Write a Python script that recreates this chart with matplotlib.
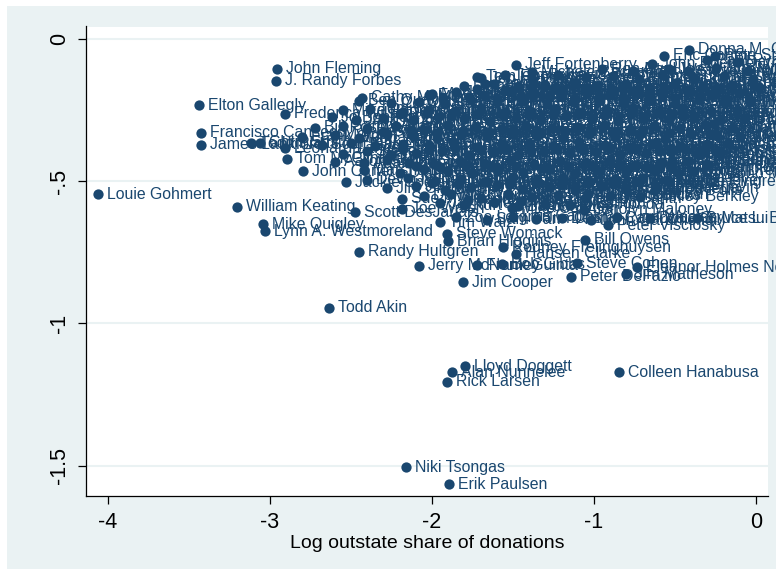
import matplotlib
matplotlib.use("Agg")
import matplotlib.pyplot as plt
from matplotlib.patches import Rectangle

plt.rcParams['font.family'] = ['Liberation Sans', 'DejaVu Sans']

# ---- labelled points that can be read individually ----
named_names = [
    "Louie Gohmert", "John Fleming", "J. Randy Forbes", "Elton Gallegly", "Frederica Wilson",
    "Francisco Canseco", "James Lankford", "Tom McClintock", "John Carter", "Jackie Speier",
    "William Keating", "Scott DesJarlais", "Mike Quigley", "Lynn A. Westmoreland", "Randy Hultgren",
    "Jerry McNerney", "Jim Cooper", "Todd Akin", "Lloyd Doggett", "Alan Nunnelee",
    "Rick Larsen", "Colleen Hanabusa", "Niki Tsongas", "Erik Paulsen", "Peter DeFazio",
    "Jim Matheson", "Eleanor Holmes Norton", "Steve Cohen", "Frank Guinta", "Bob Gibbs",
    "Hansen Clarke", "Rodney Frelinghuysen", "Bill Owens", "Steve Womack", "Brian Higgins",
    "Tim Walz", "Joe Walsh", "Sue Myrick", "Doris O. Matsui", "Bruce L. Braley",
    "Peter Visclosky", "Carolyn Maloney", "Mike Coffman", "Shelley Berkley", "Tammy Baldwin",
    "Jared Polis", "Chellie Pingree", "John Dingell", "Earl Blumenauer", "Keith Ellison",
    "Jeff Miller", "Dan Burton", "Gregory W. Meeks", "Donna M. Christensen", "Eric Cantor",
    "Jeff Fortenberry", "Sean P. Duffy", "Tom Rooney", "Kevin McCarthy", "Cathy McMorris Rodgers",
    "Ed Whitfield", "Pete Stark", "Jose E. Serrano", "Steve Israel",
]
named_x = [
    -4.062, -2.957, -2.963, -3.438, -2.907,
    -3.426, -3.426, -2.895, -2.796, -2.531,
    -3.204, -2.475, -3.043, -3.031, -2.451,
    -2.080, -1.809, -2.636, -1.796, -1.877,
    -1.907, -0.846, -2.160, -1.895, -1.142,
    -0.802, -0.735, -1.105, -1.722, -1.568,
    -1.481, -1.562, -1.056, -1.907, -1.901,
    -1.951, -2.185, -2.185, -0.654, -0.364,
    -0.914, -1.062, -1.506, -0.716, -1.037,
    -0.623, -0.543, -0.623, -0.519, -0.315,
    -0.284, -0.259, -0.457, -0.414, -0.568,
    -1.481, -1.673, -1.722, -1.241, -2.432,
    -2.019, -0.253, -0.642, -0.525,
]
named_y = [
    -0.546, -0.106, -0.148, -0.233, -0.264,
    -0.331, -0.373, -0.422, -0.465, -0.504,
    -0.591, -0.609, -0.651, -0.676, -0.749,
    -0.798, -0.855, -0.946, -1.150, -1.171,
    -1.206, -1.171, -1.505, -1.565, -0.837,
    -0.827, -0.802, -0.788, -0.795, -0.792,
    -0.756, -0.732, -0.707, -0.686, -0.711,
    -0.644, -0.598, -0.563, -0.630, -0.630,
    -0.655, -0.600, -0.595, -0.556, -0.546,
    -0.532, -0.500, -0.465, -0.426, -0.398,
    -0.335, -0.300, -0.244, -0.039, -0.060,
    -0.092, -0.159, -0.134, -0.173, -0.208,
    -0.198, -0.060, -0.370, -0.268,
]

# ---- the dense cloud (labels overlap and are unreadable in the original) ----
cloud_names = [
    "John Boehner", "Paul Ryan", "Darrell Issa", "Michele Bachmann", "Ron Paul", "Allen West",
    "Joe Wilson", "Steve King", "Jim Jordan", "Mike Pence", "Jeb Hensarling", "Tom Price",
    "Pete Sessions", "Kevin Brady", "Dave Camp", "Fred Upton", "Buck McKeon", "Peter King",
    "Lamar Smith", "Hal Rogers", "Spencer Bachus", "Doc Hastings", "John Kline", "Frank Lucas",
    "Mike Rogers", "Ileana Ros-Lehtinen", "Ralph Hall", "Joe Barton", "Kay Granger", "Sam Johnson",
    "Michael McCaul", "Ted Poe", "Randy Neugebauer", "Mac Thornberry", "John Culberson",
    "Kenny Marchant", "Pete Olson", "Mike Conaway", "Bill Flores", "Blake Farenthold",
    "Jason Chaffetz", "Rob Bishop", "Trent Franks", "Jeff Flake", "Paul Gosar", "David Schweikert",
    "Ben Quayle", "Cory Gardner", "Doug Lamborn", "Scott Tipton", "Joe Heck", "Raul Labrador",
    "Mike Simpson", "Denny Rehberg", "Cynthia Lummis", "Rick Berg", "Kristi Noem", "Adrian Smith",
    "Lee Terry", "Lynn Jenkins", "Kevin Yoder", "Tim Huelskamp", "Mike Pompeo", "Tom Cole",
    "John Sullivan", "Dan Boren", "Tim Griffin", "Rick Crawford", "Rodney Alexander",
    "Steve Scalise", "Charles Boustany", "Bill Cassidy", "Jeff Landry", "Gregg Harper",
    "Steven Palazzo", "Mo Brooks", "Martha Roby", "Robert Aderholt", "Jo Bonner", "Jack Kingston",
    "Phil Gingrey", "Tom Graves", "Rob Woodall", "Austin Scott", "Paul Broun", "Bill Young",
    "Vern Buchanan", "Connie Mack", "Dennis Ross", "Gus Bilirakis", "Rich Nugent", "Cliff Stearns",
    "Ander Crenshaw", "John Mica", "Daniel Webster", "Bill Posey", "Sandy Adams", "David Rivera",
    "Mario Diaz-Balart", "Steve Southerland", "Trey Gowdy", "Jeff Duncan", "Mick Mulvaney",
    "Tim Scott", "Virginia Foxx", "Patrick McHenry", "Howard Coble", "Renee Ellmers",
    "Walter Jones", "Bob Goodlatte", "Robert Hurt", "Scott Rigell", "Frank Wolf",
    "Morgan Griffith", "Rob Wittman", "Shelley Moore Capito", "David McKinley", "Andy Harris",
    "Roscoe Bartlett", "Jim Gerlach", "Joe Pitts", "Charlie Dent", "Bill Shuster",
    "Glenn Thompson", "Mike Kelly", "Tim Murphy", "Lou Barletta", "Tom Marino", "Pat Meehan",
    "Mike Fitzpatrick", "Todd Platts", "Chris Smith", "Leonard Lance", "Scott Garrett",
    "Frank LoBiondo", "Jon Runyan", "Michael Grimm", "Nan Hayworth", "Chris Gibson", "Tom Reed",
    "Ann Marie Buerkle", "Richard Hanna", "Charles Bass", "Steve Chabot", "Jean Schmidt",
    "Mike Turner", "Bob Latta", "Pat Tiberi", "Steve Stivers", "Jim Renacci", "Bill Johnson",
    "Steve LaTourette", "Todd Rokita", "Marlin Stutzman", "Larry Bucshon", "Todd Young",
    "Justin Amash", "Bill Huizenga", "Tim Walberg", "Thaddeus McCotter", "Candice Miller",
    "Dan Benishek", "Reid Ribble", "Tom Petri", "Jim Sensenbrenner", "John Shimkus",
    "Aaron Schock", "Adam Kinzinger", "Bobby Schilling", "Bob Dold", "Judy Biggert",
    "Peter Roskam", "Don Manzullo", "Chip Cravaack", "Tom Latham", "Sam Graves", "Billy Long",
    "Jo Ann Emerson", "Blaine Luetkemeyer", "Vicky Hartzler", "Brett Guthrie", "Geoff Davis",
    "Marsha Blackburn", "Diane Black", "Chuck Fleischmann", "Phil Roe", "Stephen Fincher",
    "Duncan Hunter", "Brian Bilbray", "Dana Rohrabacher", "Ed Royce", "Gary Miller",
    "Ken Calvert", "Jerry Lewis", "Mary Bono Mack", "David Dreier", "Devin Nunes", "Jeff Denham",
    "Wally Herger", "Dan Lungren", "John Campbell", "Greg Walden", "Jaime Herrera Beutler",
    "Dave Reichert", "Don Young", "Steve Pearce", "Nancy Pelosi", "Steny Hoyer", "Jim Clyburn",
    "John Lewis", "Barney Frank", "Henry Waxman", "John Conyers", "Charles Rangel",
    "Maxine Waters", "Jerrold Nadler", "Chris Van Hollen", "Xavier Becerra", "Sander Levin",
    "Dennis Kucinich", "Marcy Kaptur", "Tim Ryan", "Betty Sutton", "Marcia Fudge",
    "Jim McDermott", "Adam Smith", "Norm Dicks", "Jay Inslee", "Kurt Schrader", "George Miller",
    "Barbara Lee", "Anna Eshoo", "Mike Honda", "Zoe Lofgren", "Sam Farr", "Lois Capps",
    "Jim Costa", "Dennis Cardoza", "John Garamendi", "Lynn Woolsey",
    # second layer of the cloud
    "Brad Sherman", "Howard Berman", "Adam Schiff", "Judy Chu", "Lucille Roybal-Allard",
    "Karen Bass", "Laura Richardson", "Janice Hahn", "Grace Napolitano", "Linda Sanchez",
    "Loretta Sanchez", "Joe Baca", "Bob Filner", "Susan Davis", "Raul Grijalva", "Ed Pastor",
    "Gabrielle Giffords", "Ben Ray Lujan", "Martin Heinrich", "Diana DeGette", "Ed Perlmutter",
    "Henry Cuellar", "Ruben Hinojosa", "Charlie Gonzalez", "Sheila Jackson Lee", "Al Green",
    "Gene Green", "Eddie Bernice Johnson", "Silvestre Reyes", "Emanuel Cleaver", "Lacy Clay",
    "Betty McCollum", "Collin Peterson", "Ron Kind", "Gwen Moore", "Dave Loebsack",
    "Leonard Boswell", "Jan Schakowsky", "Danny Davis", "Bobby Rush", "Luis Gutierrez",
    "Dan Lipinski", "Jesse Jackson Jr.", "Jerry Costello", "Andre Carson", "Joe Donnelly",
    "John Yarmuth", "Ben Chandler", "Bennie Thompson", "Cedric Richmond", "Terri Sewell",
    "John Barrow", "Sanford Bishop", "David Scott", "Hank Johnson", "Corrine Brown",
    "Alcee Hastings", "Kathy Castor", "Ted Deutch", "Mel Watt", "David Price", "Brad Miller",
    "G.K. Butterfield", "Larry Kissell", "Mike McIntyre", "Heath Shuler", "Bobby Scott",
    "Jim Moran", "Gerry Connolly", "Elijah Cummings", "Donna Edwards", "Dutch Ruppersberger",
    "John Sarbanes", "Chaka Fattah", "Bob Brady", "Allyson Schwartz", "Tim Holden",
    "Mark Critz", "Jason Altmire", "Mike Doyle",
]
cloud_x = [
    -0.64, -0.30, -0.12,
    -1.38, -0.95, -0.76, -0.54, -0.42, -0.25, -0.05,
    -1.70, -1.55, -1.38, -1.22, -1.05, -0.88, -0.72, -0.58, -0.38, -0.20, -0.02,
    -1.80, -1.62, -1.47, -1.30, -1.12, -0.98, -0.80, -0.66, -0.50, -0.33, -0.15, 0.02,
    -2.00, -1.85, -1.68, -1.52, -1.37, -1.20, -1.04, -0.90, -0.74, -0.58, -0.42, -0.27, -0.10,
    -2.45, -2.25, -2.08, -1.92, -1.76, -1.60, -1.44, -1.29, -1.13, -0.97, -0.82, -0.66, -0.50, -0.35, -0.19, -0.04,
    -2.55, -2.38, -2.18, -2.02, -1.86, -1.70, -1.55, -1.40, -1.24, -1.08, -0.92, -0.76, -0.60, -0.45, -0.28, -0.12,
    -2.62, -2.47, -2.30, -2.12, -1.96, -1.80, -1.64, -1.48, -1.33, -1.17, -1.01, -0.85, -0.70, -0.54, -0.38, -0.22, -0.07,
    -2.72, -2.55, -2.40, -2.22, -2.05, -1.90, -1.73, -1.57, -1.42, -1.26, -1.10, -0.94, -0.78, -0.63, -0.47, -0.31, -0.15,
    -2.80, -2.60, -2.45, -2.28, -2.12, -1.97, -1.82, -1.66, -1.50, -1.35, -1.19, -1.03, -0.87, -0.72, -0.56, -0.40, -0.24, -0.10,
    -3.12, -3.06, -2.91, -2.68, -2.50, -2.35, -2.18, -2.02, -1.87, -1.72, -1.56, -1.40, -1.25, -1.09, -0.93, -0.78, -0.62, -0.46, -0.30, -0.17,
    -2.55, -2.40, -2.25, -2.10, -1.94, -1.78, -1.62, -1.47, -1.31, -1.15, -0.99, -0.84, -0.68, -0.52, -0.36, -0.22,
    -2.60, -2.42, -2.28, -2.14, -1.99, -1.83, -1.68, -1.52, -1.37, -1.21, -1.05, -0.90, -0.74, -0.58, -0.42, -0.30,
    -2.42, -2.20, -2.05, -1.90, -1.75, -1.59, -1.44, -1.28, -1.12, -0.96, -0.80, -0.64, -0.48, -0.38,
    -2.40, -2.15, -1.98, -1.82, -1.66, -1.50, -1.35, -1.19, -1.03, -0.87, -0.70, -0.55,
    -2.28, -2.10, -1.92, -1.76, -1.60, -1.44, -1.28, -1.12, -0.95, -0.80, -0.62,
    -2.05, -1.88, -1.70, -1.53, -1.38, -1.22, -1.05, -0.90,
    -1.95, -1.80, -1.62, -1.47, -1.30, -1.15,
    -1.85, -1.66, -1.50, -1.36, -1.20, -1.02, -0.86,
    # second layer
    -1.72, -1.55, -1.38, -1.21, -1.05, -0.89, -0.73, -0.57, -0.41, -0.24,
    -1.93, -1.77, -1.60, -1.45, -1.28, -1.12, -0.96, -0.82, -0.66, -0.50, -0.34, -0.18,
    -2.20, -2.03, -1.88, -1.72, -1.56, -1.40, -1.25, -1.09, -0.93, -0.77, -0.61, -0.45,
    -2.30, -2.13, -1.97, -1.81, -1.65, -1.50, -1.34, -1.18, -1.02, -0.86, -0.70, -0.54,
    -2.18, -2.02, -1.86, -1.70, -1.54, -1.39, -1.23, -1.07, -0.91, -0.75, -0.60, -0.44,
    -2.10, -1.95, -1.79, -1.63, -1.48, -1.32, -1.16, -1.00, -0.84, -0.68, -0.52,
    -2.00, -1.84, -1.68, -1.52, -1.36, -1.20, -1.04, -0.88, -0.72,
    -1.78, -1.45,
]
cloud_y = [
    -0.088, -0.075, -0.082,
    -0.118, -0.108, -0.113, -0.107, -0.114, -0.104, -0.112,
    -0.138, -0.129, -0.141, -0.127, -0.136, -0.131, -0.142, -0.126, -0.137, -0.130, -0.140,
    -0.165, -0.158, -0.170, -0.162, -0.155, -0.168, -0.160, -0.172, -0.157, -0.166, -0.161, -0.169,
    -0.195, -0.188, -0.198, -0.185, -0.193, -0.200, -0.187, -0.196, -0.190, -0.199, -0.186, -0.194, -0.191,
    -0.218, -0.226, -0.221, -0.229, -0.216, -0.224, -0.219, -0.230, -0.222, -0.215, -0.227, -0.220, -0.228, -0.217, -0.225, -0.223,
    -0.252, -0.246, -0.257, -0.249, -0.255, -0.244, -0.258, -0.250, -0.247, -0.256, -0.251, -0.245, -0.259, -0.248, -0.254, -0.250,
    -0.276, -0.284, -0.279, -0.287, -0.274, -0.282, -0.288, -0.277, -0.285, -0.273, -0.281, -0.289, -0.278, -0.283, -0.275, -0.286, -0.280,
    -0.312, -0.305, -0.316, -0.308, -0.319, -0.303, -0.311, -0.317, -0.306, -0.314, -0.309, -0.302, -0.318, -0.307, -0.313, -0.304, -0.315,
    -0.345, -0.338, -0.349, -0.334, -0.342, -0.350, -0.337, -0.346, -0.333, -0.341, -0.348, -0.336, -0.344, -0.339, -0.351, -0.335, -0.343, -0.347,
    -0.367, -0.365, -0.384, -0.372, -0.366, -0.378, -0.369, -0.375, -0.364, -0.380, -0.371, -0.367, -0.377, -0.363, -0.374, -0.379, -0.368, -0.376, -0.370, -0.365,
    -0.405, -0.396, -0.409, -0.401, -0.393, -0.407, -0.398, -0.410, -0.394, -0.403, -0.397, -0.408, -0.400, -0.395, -0.406, -0.402,
    -0.432, -0.438, -0.427, -0.435, -0.441, -0.429, -0.436, -0.425, -0.439, -0.431, -0.437, -0.426, -0.442, -0.433, -0.428, -0.440,
    -0.462, -0.470, -0.458, -0.466, -0.473, -0.460, -0.468, -0.456, -0.471, -0.463, -0.467, -0.459, -0.472, -0.464,
    -0.495, -0.488, -0.499, -0.492, -0.503, -0.486, -0.497, -0.490, -0.501, -0.494, -0.489, -0.498,
    -0.525, -0.518, -0.531, -0.522, -0.515, -0.528, -0.520, -0.533, -0.517, -0.526, -0.521,
    -0.552, -0.547, -0.558, -0.545, -0.556, -0.549, -0.560, -0.551,
    -0.578, -0.585, -0.575, -0.588, -0.580, -0.583,
    -0.628, -0.636, -0.625, -0.633, -0.630, -0.638, -0.627,
    # second layer
    -0.176, -0.181, -0.172, -0.179, -0.174, -0.183, -0.177, -0.171, -0.180, -0.175,
    -0.207, -0.203, -0.211, -0.206, -0.202, -0.210, -0.204, -0.209, -0.201, -0.208, -0.205, -0.212,
    -0.266, -0.262, -0.270, -0.264, -0.268, -0.261, -0.267, -0.263, -0.269, -0.265, -0.260, -0.271,
    -0.326, -0.322, -0.330, -0.324, -0.328, -0.321, -0.327, -0.323, -0.329, -0.325, -0.320, -0.331,
    -0.388, -0.392, -0.385, -0.390, -0.386, -0.393, -0.387, -0.391, -0.384, -0.389, -0.394, -0.386,
    -0.448, -0.452, -0.445, -0.450, -0.447, -0.454, -0.446, -0.451, -0.444, -0.449, -0.453,
    -0.508, -0.512, -0.505, -0.510, -0.507, -0.514, -0.506, -0.511, -0.504,
    -0.566, -0.569,
]

x_ticks = [-4, -3, -2, -1, 0]
x_tick_labels = ["-4", "-3", "-2", "-1", "0"]
y_ticks = [0, -0.5, -1, -1.5]
y_tick_labels = ["0", "-.5", "-1", "-1.5"]
x_title = "Log outstate share of donations"

assert len(named_names) == len(named_x) == len(named_y)
assert len(cloud_names) == len(cloud_x) == len(cloud_y), (len(cloud_names), len(cloud_x), len(cloud_y))

NAVY = "#1A476F"
BG = "#EAF2F3"

W, H = 776, 569
fig = plt.figure(figsize=(W / 100, H / 100), dpi=100)
fig.patch.set_facecolor("white")
fig.add_artist(Rectangle((7 / W, 0), 1 - 7 / W, 1 - 6 / H, transform=fig.transFigure,
                         facecolor=BG, edgecolor="none", zorder=-5))

left, right, top, bottom = 85.6, 768.0, 26.5, 496.4
ax = fig.add_axes([left / W, 1 - bottom / H, (right - left) / W, (bottom - top) / H])
ax.set_facecolor("white")
ax.set_xlim(-4.138, 0.074)
ax.set_ylim(-1.608, 0.043)

for yv in y_ticks:
    ax.axhline(yv, color=BG, lw=1.5, zorder=1)

all_names = named_names + cloud_names
all_x = named_x + cloud_x
all_y = named_y + cloud_y

for nm, xv, yv in zip(all_names, all_x, all_y):
    ax.plot([xv], [yv], "o", ms=7.4, color=NAVY, mec=NAVY, mew=0, zorder=3)
    ax.annotate(nm, (xv, yv), xytext=(6.5, 0), textcoords="offset points",
                ha="left", va="center", fontsize=11.4, color=NAVY, zorder=3,
                annotation_clip=False)

for s in ["top", "right"]:
    ax.spines[s].set_visible(False)
for s in ["left", "bottom"]:
    ax.spines[s].set_color("black")
    ax.spines[s].set_linewidth(0.9)

ax.set_xticks(x_ticks)
ax.set_xticklabels(x_tick_labels, fontsize=15.5)
ax.set_yticks(y_ticks)
ax.set_yticklabels(y_tick_labels, fontsize=15.5, rotation=90, va="center")
ax.tick_params(axis="both", direction="out", length=6, width=0.9, color="black", pad=5)
ax.set_xlabel(x_title, fontsize=14, labelpad=2)

fig.savefig("out.png", dpi=100, facecolor=fig.get_facecolor())
